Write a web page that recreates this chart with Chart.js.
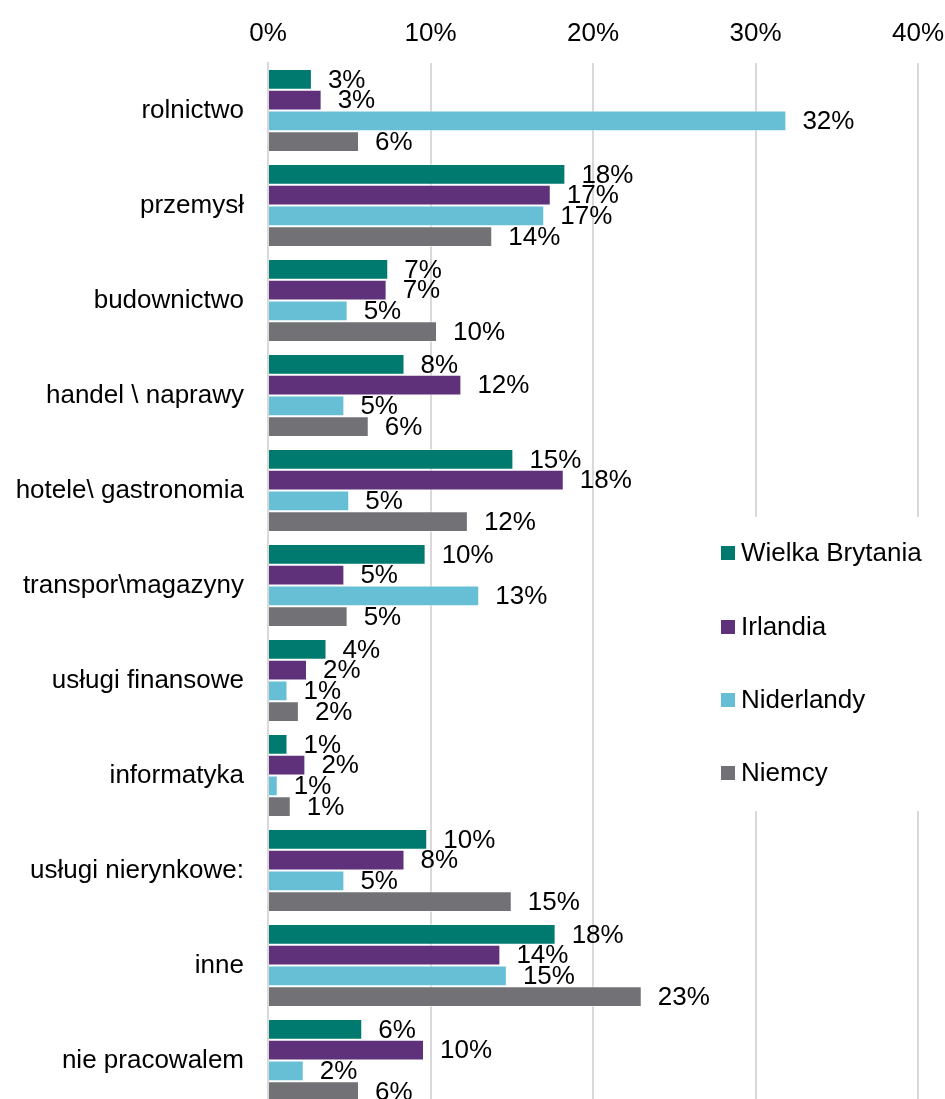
<!DOCTYPE html>
<html>
<head>
<meta charset="utf-8">
<script src="https://cdn.jsdelivr.net/npm/chart.js@4.4.0/dist/chart.umd.min.js"></script>
<style>
html,body{margin:0;padding:0;background:#fff;overflow:hidden;width:945px;height:1099px;}
canvas{display:block;}
</style>
</head>
<body>
<canvas id="c" width="945" height="1110"></canvas>
<script>
const categories = ["rolnictwo","przemysł","budownictwo","handel \\ naprawy","hotele\\ gastronomia","transpor\\magazyny","usługi finansowe","informatyka","usługi nierynkowe:","inne","nie pracowalem"];
const seriesNames = ["Wielka Brytania","Irlandia","Niderlandy","Niemcy"];
const wielkaBrytania = [2.7,18.3,7.4,8.4,15.1,9.7,3.6,1.2,9.8,17.7,5.8];
const irlandia      = [3.3,17.4,7.3,11.9,18.2,4.7,2.4,2.3,8.4,14.3,9.6];
const niderlandy    = [31.9,17.0,4.9,4.7,5.0,13.0,1.2,0.6,4.7,14.7,2.2];
const niemcy        = [5.6,13.8,10.4,6.2,12.3,4.9,1.9,1.4,15.0,23.0,5.6];
const xTicks = [0,10,20,30,40];
const colors = ["#007A6E","#5E317A","#66BFD5","#727176"];

const FONT = "'Liberation Sans', Arial, sans-serif";
const FS = 26;

const valueLabels = {
  id:'valueLabels',
  afterDatasetsDraw(chart){
    const ctx = chart.ctx;
    ctx.save();
    ctx.font = FS + "px " + FONT;
    ctx.fillStyle = "#000";
    ctx.textAlign = "left";
    ctx.textBaseline = "middle";
    chart.data.datasets.forEach((ds,i)=>{
      const meta = chart.getDatasetMeta(i);
      meta.data.forEach((bar,j)=>{
        ctx.fillText(Math.round(ds.data[j]) + "%", bar.x + 16, bar.y + 1);
      });
    });
    ctx.restore();
  }
};

const legendBox = {
  id:'legendBox',
  afterDraw(chart){
    const ctx = chart.ctx;
    ctx.save();
    ctx.fillStyle = "#fff";
    ctx.fillRect(700,517,245,294);
    const ys = [553,627,700,773];
    ctx.font = FS + "px " + FONT;
    ctx.textBaseline = "middle";
    ctx.textAlign = "left";
    seriesNames.forEach((n,i)=>{
      ctx.fillStyle = colors[i];
      ctx.fillRect(721, ys[i]-7, 14, 14);
      ctx.fillStyle = "#000";
      ctx.fillText(n, 741, ys[i]+1);
    });
    ctx.restore();
  }
};

const seriesData = [wielkaBrytania, irlandia, niderlandy, niemcy];

new Chart(document.getElementById('c'), {
  type:'bar',
  data:{
    labels: categories,
    datasets: seriesNames.map((n,i)=>({
      label:n,
      data: seriesData[i],
      backgroundColor: colors[i],
      borderColor: "rgba(255,255,255,0.55)",
      borderWidth: 1,
      categoryPercentage: 0.874,
      barPercentage: 1.0
    }))
  },
  options:{
    indexAxis:'y',
    responsive:false,
    animation:false,
    layout:{padding:{top:0,right:27,bottom:2,left:0}},
    plugins:{legend:{display:false},tooltip:{enabled:false}},
    scales:{
      x:{
        position:'top',
        min:0,max:40,
        afterBuildTicks(scale){ scale.ticks = xTicks.map(v=>({value:v})); },
        ticks:{
          callback:(v)=>v+"%",
          font:{family:FONT,size:FS},
          color:"#000",
          padding:14,
          maxRotation:0
        },
        grid:{color:"#d9d9d9",lineWidth:2,drawTicks:false},
        border:{display:false},
        afterFit(scale){ scale.height = 63; scale.paddingLeft = 0; scale.paddingRight = 0; }
      },
      y:{
        ticks:{
          font:{family:FONT,size:FS},
          color:"#000",
          padding:24,
          autoSkip:false
        },
        grid:{display:false,drawTicks:false},
        border:{display:true,color:"#d9d9d9",width:2},
        afterFit(scale){ scale.width = 268; scale.paddingTop = 0; scale.paddingBottom = 0; }
      }
    }
  },
  plugins:[valueLabels, legendBox]
});
</script>
</body>
</html>
